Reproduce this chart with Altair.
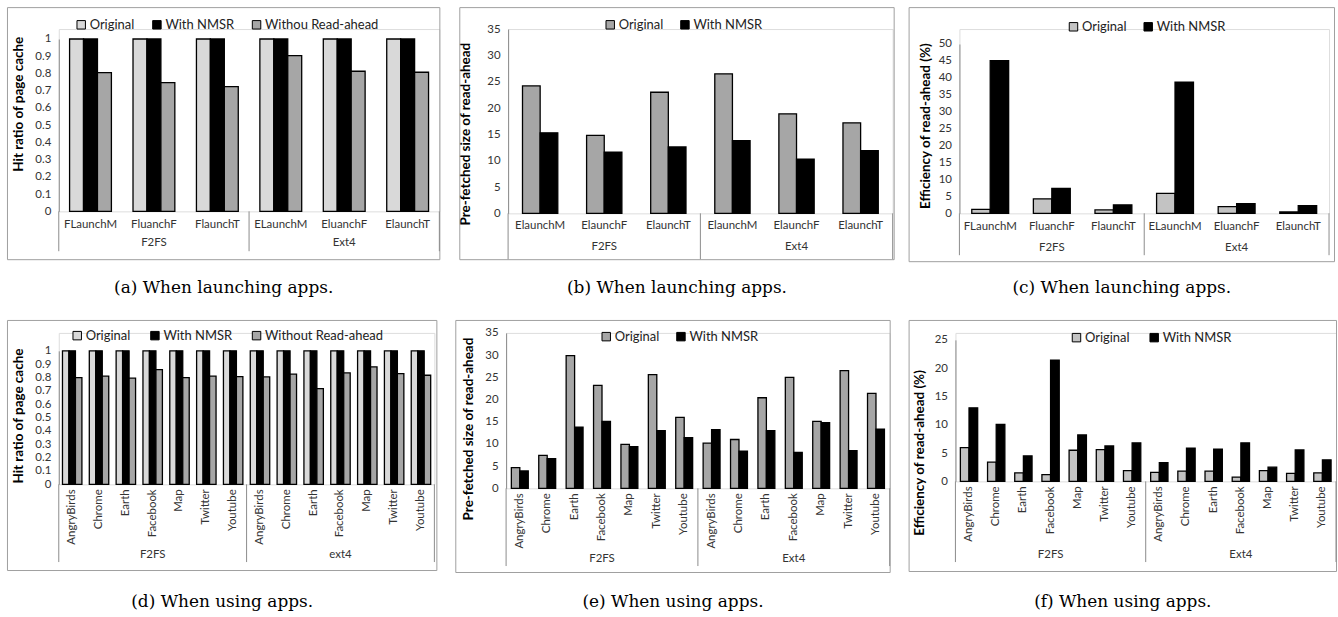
import altair as alt
import pandas as pd

# ---------------- categories ----------------
launch_f2fs = ["FLaunchM", "FluanchF", "FlaunchT"]
launch_ext4 = ["ELaunchM", "EluanchF", "ElaunchT"]
launch_b = ["ElaunchM", "ElaunchF", "ElaunchT"]
apps = ["AngryBirds", "Chrome", "Earth", "Facebook", "Map", "Twitter", "Youtube"]

# ---------------- series values ----------------
a_original = [1.0, 1.0, 1.0, 1.0, 1.0, 1.0]
a_nmsr = [1.0, 1.0, 1.0, 1.0, 1.0, 1.0]
a_without = [0.805, 0.747, 0.724, 0.903, 0.813, 0.807]

b_original = [24.2, 14.8, 23.0, 26.5, 18.9, 17.2]
b_nmsr = [15.3, 11.6, 12.6, 13.8, 10.3, 11.9]

c_original = [1.2, 4.3, 1.0, 5.9, 2.0, 0.4]
c_nmsr = [45.1, 7.4, 2.5, 38.7, 2.9, 2.3]

d_original = [1.0] * 14
d_nmsr = [1.0] * 14
d_without = [0.80, 0.81, 0.795, 0.86, 0.80, 0.81, 0.807,
             0.805, 0.825, 0.717, 0.835, 0.88, 0.83, 0.817]

e_original = [4.65, 7.4, 29.9, 23.2, 9.9, 25.6, 16.0,
              10.2, 11.0, 20.4, 25.0, 15.1, 26.5, 21.4]
e_nmsr = [3.9, 6.7, 13.8, 15.1, 9.4, 13.0, 11.4,
          13.2, 8.4, 13.0, 8.1, 14.8, 8.5, 13.3]

f_original = [5.96, 3.4, 1.5, 1.2, 5.5, 5.6, 1.9,
              1.6, 1.8, 1.8, 0.76, 1.9, 1.4, 1.5]
f_nmsr = [13.0, 10.05, 4.5, 21.4, 8.2, 6.25, 6.8,
          3.3, 5.85, 5.67, 6.8, 2.5, 5.55, 3.8]

# ---------------- tick labels ----------------
ticks_hit = [0, 0.1, 0.2, 0.3, 0.4, 0.5, 0.6, 0.7, 0.8, 0.9, 1]
ticks_35 = [0, 5, 10, 15, 20, 25, 30, 35]
ticks_50 = [0, 5, 10, 15, 20, 25, 30, 35, 40, 45, 50]
ticks_25 = [0, 5, 10, 15, 20, 25]

LIGHT = "#d9d9d9"
LIGHT2 = "#c3c3c3"
MID = "#a6a6a6"
BLACK = "#000000"
AXIS = "#8c8c8c"
BOX = "#a0a0a0"
TXT = "#333333"
FONT = "Lato"


def panel(groups, cats, series, values, colors, ticks, fmt, ytitle, caption,
          g, O, rotate):
    keys = [f"{gr}|{c}" for gr, cs in zip(groups, cats) for c in cs]
    cat_labels = [c for cs in cats for c in cs]
    rows = []
    for s, vals in zip(series, values):
        for k, v in zip(keys, vals):
            rows.append({"key": k, "series": s, "value": v})
    df = pd.DataFrame(rows)

    PW, PH, PL, PT = g["PW"], g["PH"], g["PL"], g["PT"]
    dt = PT - O              # data top below the (row-aligned) origin
    HP = PH + dt             # full plot height
    xs = alt.Scale(domain=keys, paddingInner=0, paddingOuter=0)

    xaxis = alt.Axis(title=None, labels=False, ticks=False, domainColor=AXIS,
                     domainWidth=1)

    yaxis = alt.Axis(values=ticks, format=fmt, title=ytitle, grid=False,
                     ticks=False, domainColor=AXIS, domainWidth=1,
                     labelPadding=8, labelFont=FONT, labelFontSize=11.5,
                     labelColor=TXT, titleX=g["tx"], titleY=g["ty"] + dt,
                     titleAngle=270, titleAlign="center", titleBaseline="middle",
                     titleFont=FONT, titleFontWeight="bold", titleFontSize=13.5,
                     titleColor="black")

    legend = alt.Legend(title=None, orient="none", legendX=g["lx"],
                        legendY=g["lyc"] + dt - 7, direction="horizontal",
                        symbolType="square", symbolSize=72,
                        symbolStrokeColor="black", symbolStrokeWidth=1,
                        labelFont=FONT, labelFontSize=13, labelColor="#222222",
                        columnPadding=g["cp"], labelOffset=2, padding=0)

    bars = alt.Chart(df).mark_bar(stroke="black", strokeWidth=1.3).encode(
        x=alt.X("key:N", scale=xs, axis=xaxis),
        xOffset=alt.XOffset("series:N",
                            scale=alt.Scale(domain=series, paddingOuter=g["po"],
                                            paddingInner=0)),
        y=alt.Y("value:Q",
                scale=alt.Scale(domain=[0, ticks[-1]], nice=False,
                                range=[HP, dt]),
                axis=yaxis),
        color=alt.Color("series:N", scale=alt.Scale(domain=series, range=colors),
                        legend=legend),
    )

    first_keys = [f"{gr}|{cs[0]}" for gr, cs in zip(groups, cats)]
    mid_keys = [f"{gr}|{cs[len(cs) // 2]}" for gr, cs in zip(groups, cats)]

    catdf = pd.DataFrame({"key": keys, "label": cat_labels})
    if rotate:
        cat_text = alt.Chart(catdf).mark_text(
            font=FONT, fontSize=11.5, color=TXT, angle=270, align="right",
            baseline="middle").encode(
            x=alt.X("key:N", scale=xs, axis=None),
            y=alt.value(HP + 5), text="label:N")
    else:
        cat_text = alt.Chart(catdf).mark_text(
            font=FONT, fontSize=11.5, color=TXT, align="center",
            baseline="middle").encode(
            x=alt.X("key:N", scale=xs, axis=None),
            y=alt.value(HP + g["cy"]), text="label:N")

    sep_left = alt.Chart(pd.DataFrame({"key": first_keys})).mark_rule(
        color=AXIS, strokeWidth=1).encode(
        x=alt.X("key:N", scale=xs, axis=None, bandPosition=0),
        y=alt.value(HP), y2=alt.value(HP + g["sep"]))
    sep_right = alt.Chart(pd.DataFrame({"key": [keys[-1]]})).mark_rule(
        color=AXIS, strokeWidth=1).encode(
        x=alt.X("key:N", scale=xs, axis=None, bandPosition=1),
        y=alt.value(HP), y2=alt.value(HP + g["sep"]))

    grp = alt.Chart(pd.DataFrame({"key": mid_keys, "label": groups})).mark_text(
        font=FONT, fontSize=11.5, color=TXT, baseline="middle").encode(
        x=alt.X("key:N", scale=xs, axis=None),
        y=alt.value(HP + g["grp"]), text="label:N")

    one = pd.DataFrame({"t": [caption]})
    box = alt.Chart(one).mark_rect(fillOpacity=0, stroke=BOX, strokeWidth=1).encode(
        x=alt.value(-PL + 0.5), x2=alt.value(g["BW"] - PL - 0.5),
        y=alt.value(-O + 0.5), y2=alt.value(g["BH"] - O - 0.5))
    cell = alt.Chart(one).mark_rect(opacity=0).encode(
        x=alt.value(-PL), x2=alt.value(g["cellW"] - PL),
        y=alt.value(-O), y2=alt.value(g["cellH"] - O))
    cap = alt.Chart(one).mark_text(font="DejaVu Serif", fontSize=17,
                                   align="center", baseline="alphabetic",
                                   color="black").encode(
        x=alt.value(g["BW"] / 2 - PL), y=alt.value(g["capy"] - O), text="t:N")

    return alt.layer(cell, box, bars, cat_text, sep_left, sep_right, grp,
                     cap).properties(width=PW, height=HP)


ga = dict(BW=435, BH=254, PL=52, PT=32, PW=382, PH=173, cellW=451, cellH=312,
          sep=40, grp=32, cy=14, capy=287, lx=16, lyc=-14, cp=16, po=0.775,
          tx=-40, ty=65)
gb = dict(BW=437, BH=254, PL=49, PT=22, PW=386, PH=185, cellW=449, cellH=312,
          sep=46, grp=34, cy=13, capy=287, lx=96, lyc=-4, cp=15, po=0.816,
          tx=-43, ty=105)
gc = dict(BW=428, BH=256, PL=51, PT=37, PW=371, PH=170, cellW=428, cellH=312,
          sep=42, grp=35, cy=14, capy=287, lx=108, lyc=-17, cp=15, po=0.67,
          tx=-34, ty=82)
gd = dict(BW=432, BH=252, PL=52, PT=31, PW=377, PH=134, cellW=448, cellH=295,
          sep=78, grp=71, cy=0, capy=288, lx=12, lyc=-15, cp=18, po=0.57,
          tx=-40, ty=65)
ge = dict(BW=437, BH=254, PL=51, PT=13, PW=385, PH=156, cellW=453, cellH=295,
          sep=78, grp=71, cy=0, capy=288, lx=94, lyc=4, cp=15, po=0.62,
          tx=-38, ty=96)
gf = dict(BW=430, BH=253, PL=47, PT=20, PW=382, PH=142, cellW=430, cellH=295,
          sep=81, grp=74, cy=0, capy=288, lx=115, lyc=-2, cp=18, po=0.57,
          tx=-36, ty=113)

O1 = min(ga["PT"], gb["PT"], gc["PT"])
O2 = min(gd["PT"], ge["PT"], gf["PT"])

pa = panel(["F2FS", "Ext4"], [launch_f2fs, launch_ext4],
           ["Original", "With NMSR", "Withou Read-ahead"],
           [a_original, a_nmsr, a_without], [LIGHT, BLACK, MID],
           ticks_hit, "~g", "Hit ratio of page cache",
           "(a) When launching apps.", ga, O1, False)
pb = panel(["F2FS", "Ext4"], [launch_b, launch_b],
           ["Original", "With NMSR"], [b_original, b_nmsr], [MID, BLACK],
           ticks_35, "d", "Pre-fetched size of read-ahead",
           "(b) When launching apps.", gb, O1, False)
pc = panel(["F2FS", "Ext4"], [launch_f2fs, launch_ext4],
           ["Original", "With NMSR"], [c_original, c_nmsr], [LIGHT2, BLACK],
           ticks_50, "d", "Efficiency of read-ahead (%)",
           "(c) When launching apps.", gc, O1, False)
pd_ = panel(["F2FS", "ext4"], [apps, apps],
            ["Original", "With NMSR", "Without Read-ahead"],
            [d_original, d_nmsr, d_without], [LIGHT, BLACK, MID],
            ticks_hit, "~g", "Hit ratio of page cache",
            "(d) When using apps.", gd, O2, True)
pe = panel(["F2FS", "Ext4"], [apps, apps],
           ["Original", "With NMSR"], [e_original, e_nmsr], [MID, BLACK],
           ticks_35, "d", "Pre-fetched size of read-ahead",
           "(e) When using apps.", ge, O2, True)
pf = panel(["F2FS", "Ext4"], [apps, apps],
           ["Original", "With NMSR"], [f_original, f_nmsr], [LIGHT2, BLACK],
           ticks_25, "d", "Efficiency of read-ahead (%)",
           "(f) When using apps.", gf, O2, True)

res = dict(x="independent", y="independent", color="independent",
           xOffset="independent")
row1 = alt.hconcat(pa, pb, pc, spacing=0).resolve_scale(**res).resolve_legend(
    color="independent")
row2 = alt.hconcat(pd_, pe, pf, spacing=0).resolve_scale(**res).resolve_legend(
    color="independent")

chart = alt.vconcat(row1, row2, spacing=0).resolve_scale(**res).resolve_legend(
    color="independent").properties(
    padding={"left": 6, "top": 5, "right": 0, "bottom": 0},
    background="white",
).configure_view(stroke=None).configure(font=FONT)

chart.save("out.html", embed_options={"renderer": "svg", "actions": False})
